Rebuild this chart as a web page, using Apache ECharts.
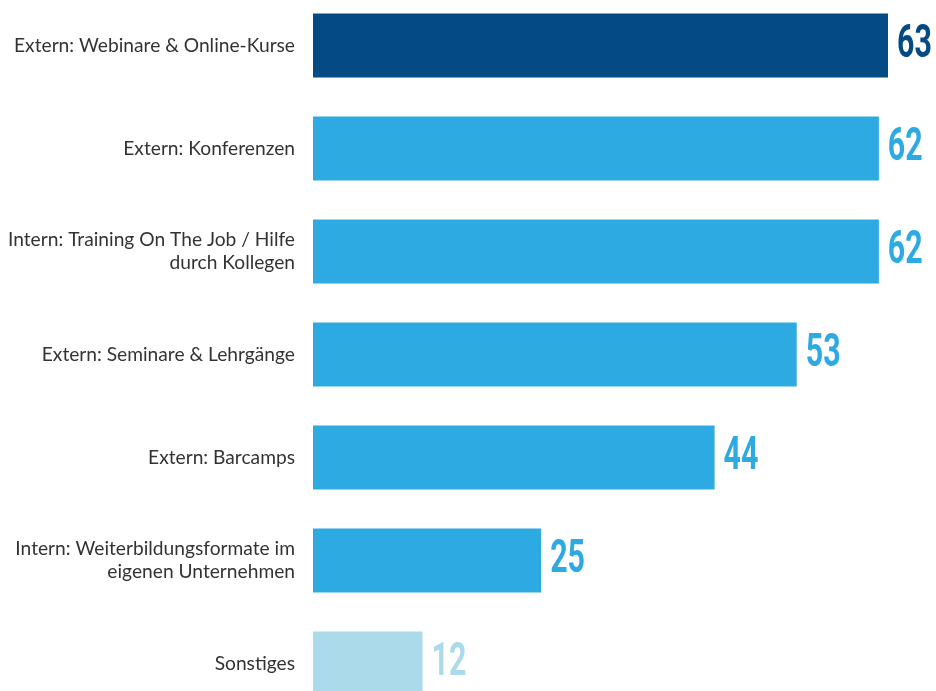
<!DOCTYPE html>
<html><head><meta charset="utf-8">
<script src="https://cdn.jsdelivr.net/npm/echarts@6/dist/echarts.min.js"></script>
<style>html,body{margin:0;padding:0;background:#fff}#c{width:936px;height:691px}</style>
</head><body><div id="c"></div>
<script>
const categories = [
  "Extern: Webinare & Online-Kurse",
  "Extern: Konferenzen",
  "Intern: Training On The Job / Hilfe\ndurch Kollegen",
  "Extern: Seminare & Lehrgänge",
  "Extern: Barcamps",
  "Intern: Weiterbildungsformate im\neigenen Unternehmen",
  "Sonstiges"
];
const values = [63, 62, 62, 53, 44, 25, 12];
const colors = ["#044a84", "#2eaae2", "#2eaae2", "#2eaae2", "#2eaae2", "#2eaae2", "#abdbeb"];

const chart = echarts.init(document.getElementById('c'));
chart.setOption({
  animation: false,
  grid: { left: 313, right: 48, top: -6, bottom: -24, containLabel: false, outerBoundsMode: 'none' },
  xAxis: { type: 'value', min: 0, max: 63, show: false },
  yAxis: {
    type: 'category', data: categories, inverse: true,
    axisLine: { show: false }, axisTick: { show: false },
    axisLabel: { color: '#333', fontFamily: 'Lato', fontSize: 19.2, lineHeight: 23, margin: 18, align: 'right' }
  },
  series: [{
    type: 'bar',
    barWidth: 64,
    data: values.map((v, i) => ({ value: v, itemStyle: { color: colors[i] } }))
  }, {
    type: 'custom',
    data: values.map((v, i) => [v, i]),
    renderItem: function (params, api) {
      const p = api.coord([api.value(0), api.value(1)]);
      const i = params.dataIndex;
      return {
        type: 'text',
        x: p[0] + 9, y: p[1],
        scaleX: 0.66,
        style: {
          text: String(values[i]),
          fill: colors[i],
          font: 'bold 46px Roboto',
          textAlign: 'left',
          textVerticalAlign: 'middle'
        }
      };
    }
  }]
});
</script></body></html>
